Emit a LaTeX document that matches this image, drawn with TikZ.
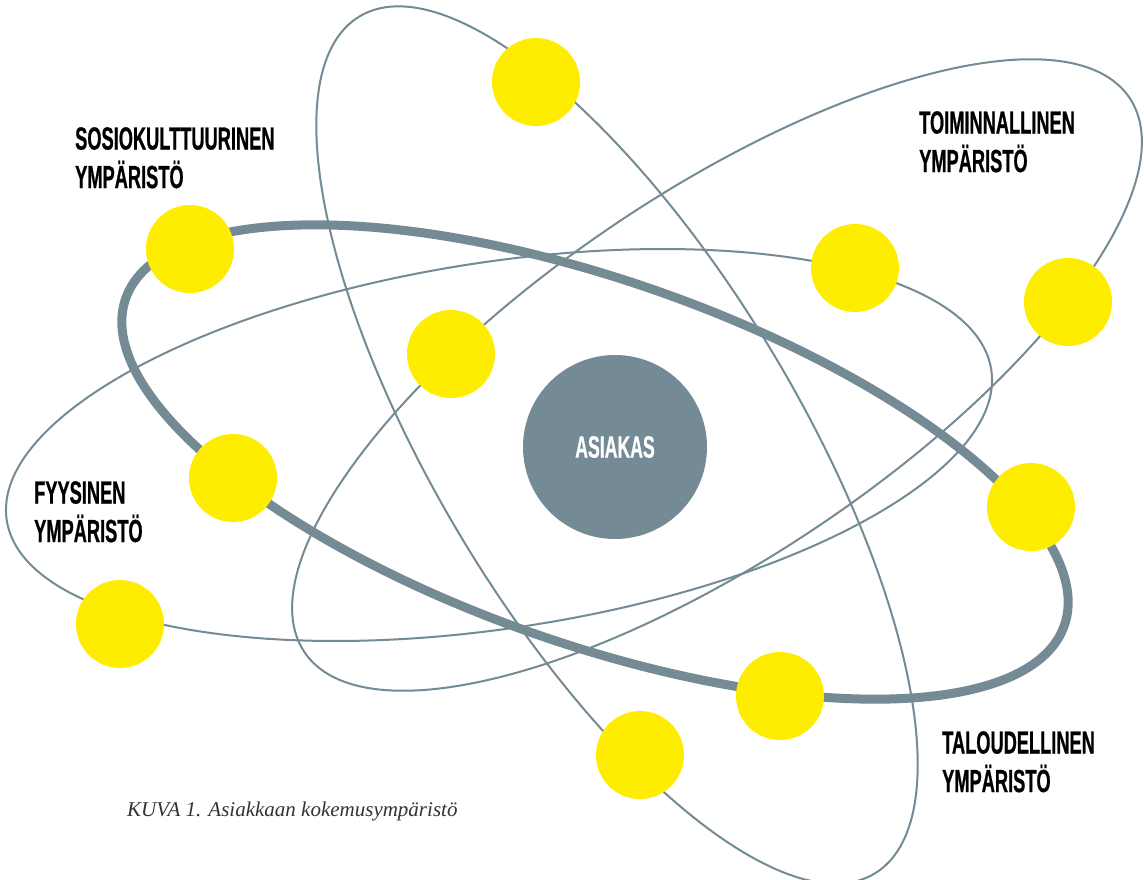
\documentclass[tikz,border=0pt]{standalone}
\usepackage{fontspec}
\newfontfamily\labfont{Liberation Sans}[FakeStretch=0.57, BoldFeatures={FakeBold=0.6}]
\newfontfamily\capfont{Liberation Serif}
\definecolor{atomgray}{HTML}{748A94}
\definecolor{atomyellow}{HTML}{FFED00}
\definecolor{captext}{HTML}{333333}
\tikzset{
  thinorbit/.style={draw=atomgray, line width=2pt},
  thickorbit/.style={draw=atomgray, line width=9pt},
  electron/.style={circle, fill=atomyellow, minimum size=88pt, inner sep=0pt},
  nucleus/.style={circle, fill=atomgray, minimum size=184pt, inner sep=0pt, text=white,
    font=\labfont\bfseries\fontsize{31}{36}\selectfont},
  envlabel/.style={anchor=north west, inner sep=0pt, align=left, text=black,
    font=\labfont\bfseries\fontsize{32}{38.5}\selectfont},
}
\begin{document}
\begin{tikzpicture}[x=1pt,y=-1pt]
\useasboundingbox (0,0) rectangle (1144,879);
\fill[white] (0,0) rectangle (1144,879);
% thin orbits
\draw[thinorbit, rotate around={8.7:(499,445)}] (499,445) ellipse [x radius=498pt, y radius=183pt];
\draw[thinorbit, rotate around={33.9:(717,375)}] (717,375) ellipse [x radius=497pt, y radius=182pt];
\draw[thinorbit, rotate around={-59:(617,445)}] (617,445) ellipse [x radius=500pt, y radius=181pt];
% thick orbit
\draw[thickorbit, rotate around={-19.2:(595,462)}] (595,462) ellipse [x radius=497pt, y radius=182pt];
% electrons
\node[electron] (e1) at (536,82) {};
\node[electron] (e2) at (190,249) {};
\node[electron] (e3) at (451,354) {};
\node[electron] (e4) at (855,268) {};
\node[electron] (e5) at (1068,302) {};
\node[electron] (e6) at (233,478) {};
\node[electron] (e7) at (120,624) {};
\node[electron] (e8) at (1031,507) {};
\node[electron] (e9) at (780,696) {};
\node[electron] (e10) at (640,755) {};
% nucleus
\node[nucleus] (asiakas) at (615,447) {ASIAKAS};
% labels
\node[envlabel] (sosio) at (75,127) {SOSIOKULTTUURINEN\\YMPÄRISTÖ};
\node[envlabel] (toim) at (919,111) {TOIMINNALLINEN\\YMPÄRISTÖ};
\node[envlabel] (fyys) at (34,481) {FYYSINEN\\YMPÄRISTÖ};
\node[envlabel] (talous) at (942,731) {TALOUDELLINEN\\YMPÄRISTÖ};
% caption
\node[anchor=base west, inner sep=0pt, text=captext, font=\capfont\itshape\fontsize{21}{25}\selectfont] (caption) at (127,816) {KUVA 1. Asiakkaan kokemusympäristö};
\end{tikzpicture}
\end{document}
